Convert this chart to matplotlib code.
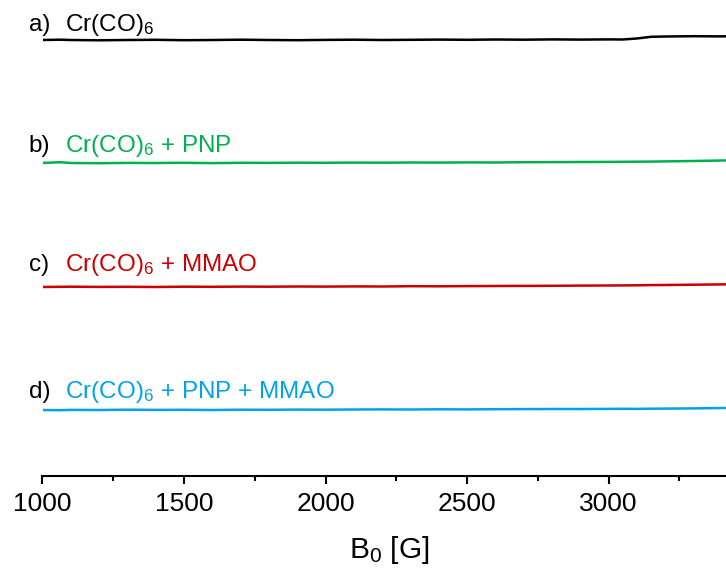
import matplotlib
matplotlib.use("Agg")
import matplotlib.pyplot as plt
import numpy as np

plt.rcParams['font.family'] = ['Liberation Sans', 'DejaVu Sans']
plt.rcParams['mathtext.fontset'] = 'custom'
plt.rcParams['mathtext.rm'] = 'Liberation Sans'
plt.rcParams['mathtext.it'] = 'Liberation Sans:italic'

# Magnetic field (G)
field = [1000, 1060, 1100, 1200, 1300, 1400, 1500, 1600, 1700, 1800, 1900, 2000,
         2100, 2200, 2300, 2400, 2500, 2600, 2700, 2800, 2900, 3000, 3050, 3100,
         3150, 3200, 3300, 3400, 3420]

# Signals (a.u.)
sig_a = [0.0, 0.3, 0.0, -0.3, 0.0, 0.2, -0.2, 0.0, 0.3, 0.0, -0.2, 0.1,
         0.3, 0.0, 0.2, 0.4, 0.2, 0.5, 0.3, 0.6, 0.4, 0.6, 0.5, 1.5,
         3.2, 3.5, 3.8, 3.6, 3.8]
sig_b = [0.0, 0.8, 0.0, -0.2, 0.1, 0.0, 0.2, -0.1, 0.2, 0.1, 0.3, 0.2,
         0.4, 0.3, 0.5, 0.4, 0.6, 0.5, 0.8, 0.9, 1.0, 1.1, 1.2, 1.3,
         1.4, 1.6, 2.0, 2.5, 2.6]
sig_c = [0.0, 0.2, 0.3, 0.1, 0.2, 0.0, 0.3, 0.2, 0.4, 0.3, 0.5, 0.4,
         0.6, 0.5, 0.8, 0.7, 0.9, 1.0, 1.1, 1.2, 1.4, 1.5, 1.6, 1.7,
         1.9, 2.0, 2.3, 2.6, 2.7]
sig_d = [0.0, -0.2, 0.1, 0.0, 0.3, 0.1, 0.2, 0.0, 0.3, 0.2, 0.4, 0.3,
         0.5, 0.6, 0.5, 0.7, 0.6, 0.8, 0.9, 1.0, 1.0, 1.1, 1.2, 1.1,
         1.3, 1.4, 1.6, 2.0, 2.0]

signals = [sig_a, sig_b, sig_c, sig_d]
offsets = [436, 313, 189, 66]
letters = ['a)', 'b)', 'c)', 'd)']
names = [r'Cr(CO)$_\mathregular{6}$',
         r'Cr(CO)$_\mathregular{6}$ + PNP',
         r'Cr(CO)$_\mathregular{6}$ + MMAO',
         r'Cr(CO)$_\mathregular{6}$ + PNP + MMAO']
colors = ['#000000', '#00B050', '#CC0000', '#00A2E8']
label_gap = [9, 11, 16, 12]

xticks = [1000, 1500, 2000, 2500, 3000]
xminor = [1250, 1750, 2250, 2750, 3250]

fig = plt.figure(figsize=(7.26, 5.72), dpi=100)
ax = fig.add_axes([42.5 / 726, (572 - 476) / 572, (726 - 42.5) / 726, 476 / 572])

for sig, off, col in zip(signals, offsets, colors):
    ax.plot(field, np.array(sig) + off, color=col, lw=1.8)

for let, name, off, col, gap in zip(letters, names, offsets, colors, label_gap):
    ax.text(952, off + gap, let, color='black', fontsize=17.5, ha='left', va='baseline', clip_on=False)
    ax.text(1079, off + gap, name, color=col, fontsize=17.5, ha='left', va='baseline', clip_on=False)

ax.set_xlim(1000, 3415)
ax.set_ylim(0, 476)
ax.set_xticks(xticks)
ax.set_xticklabels([str(t) for t in xticks])
ax.set_xticks(xminor, minor=True)
ax.set_yticks([])
for s in ['left', 'right', 'top']:
    ax.spines[s].set_visible(False)
ax.spines['bottom'].set_linewidth(1.5)
ax.tick_params(axis='x', which='major', direction='out', length=6, width=1.5,
               labelsize=19, pad=5.5)
ax.tick_params(axis='x', which='minor', direction='out', length=3.5, width=1.5)
ax.set_xlabel(r'B$_\mathregular{0}$ [G]', fontsize=21.5)
ax.xaxis.set_label_coords(0.508, -0.122)

fig.savefig('out.png', dpi=100)
